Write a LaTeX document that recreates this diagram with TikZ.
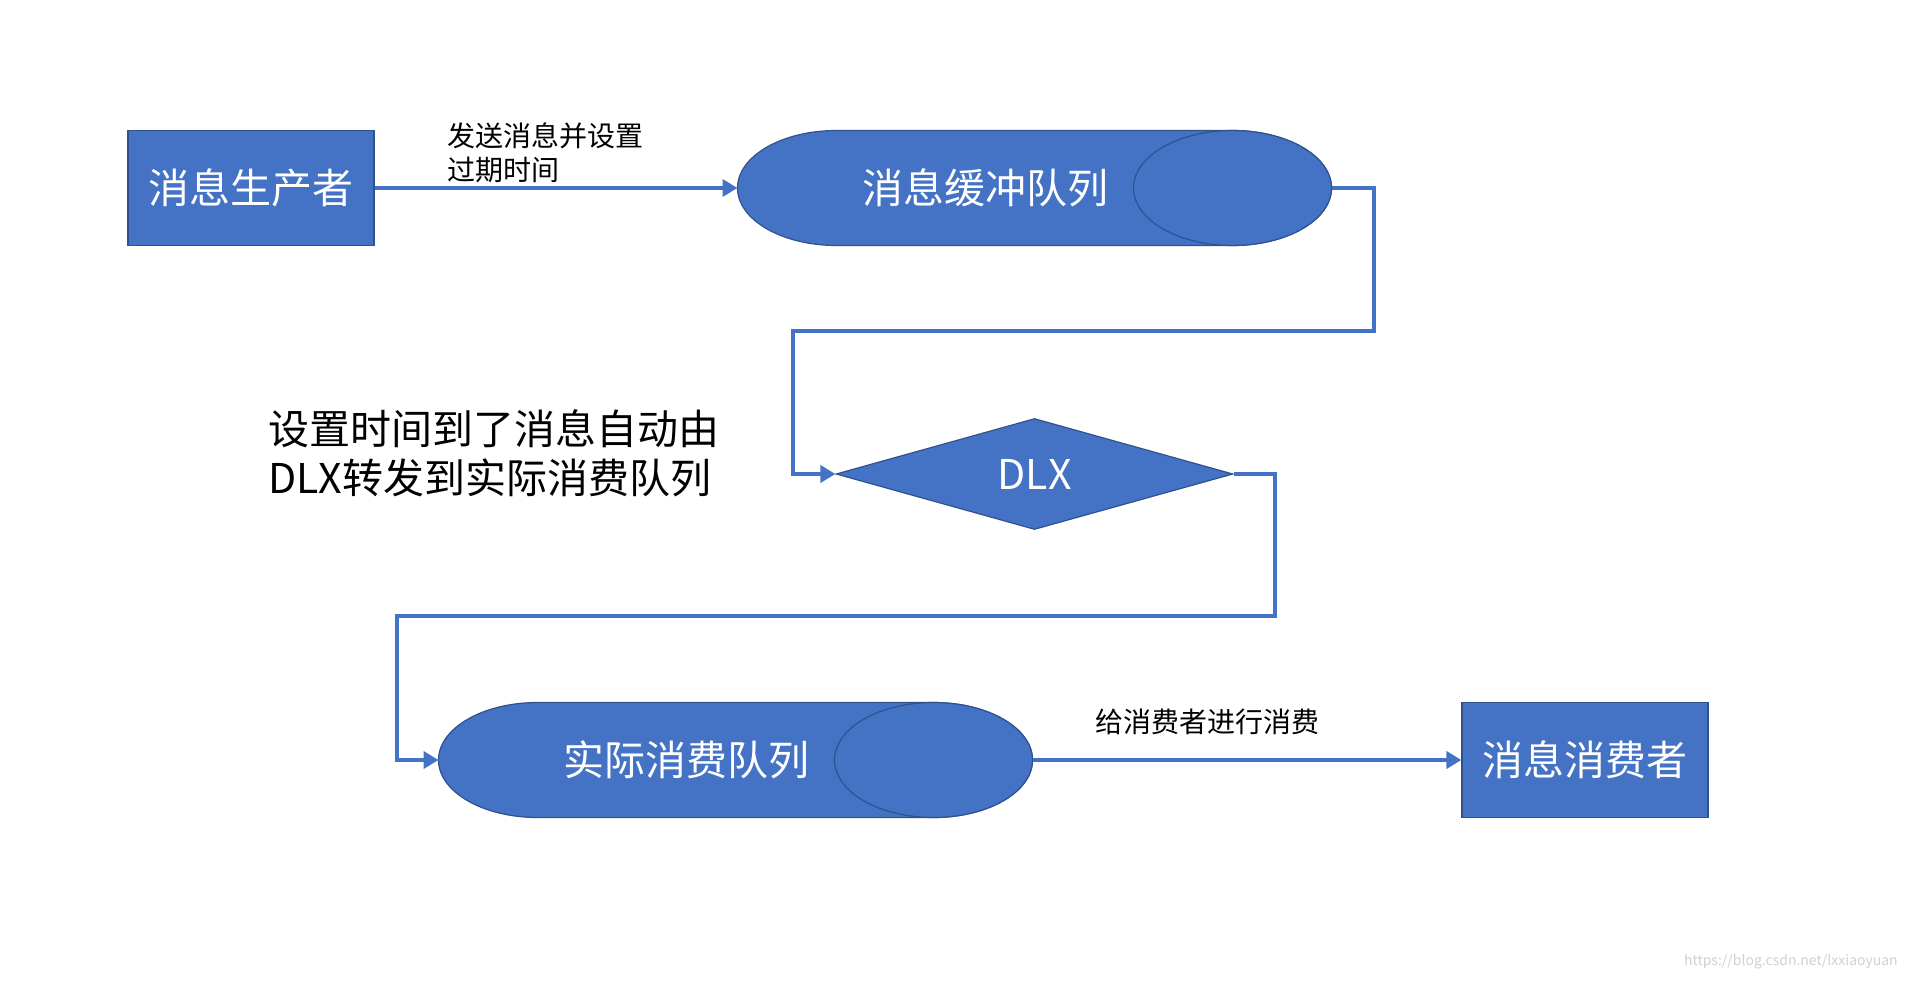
\documentclass[tikz,border=0pt]{standalone}
\usepackage{fontspec}
\setmainfont{Noto Sans CJK SC}
\usepackage{tikz}
\usetikzlibrary{positioning,shapes.geometric,arrows.meta,backgrounds}

\definecolor{boxblue}{HTML}{4472C4}
\definecolor{edgeblue}{HTML}{2F528F}

\begin{document}
\begin{tikzpicture}[%
	x=1pt, y=-1pt,
	->,
	>={Triangle[length=15pt,width=17pt]},
	line width=4.5pt, draw=boxblue,
	big/.style={font=\fontsize{41}{49}\selectfont},
	small/.style={font=\fontsize{28}{34}\selectfont},
	endpoint/.style={draw=edgeblue, line width=1.2pt, fill=boxblue, text=white, big,
		minimum width=246pt, minimum height=115pt, inner sep=0},
	queue/.style={text=white, big, minimum width=495pt, minimum height=115pt, inner sep=0, outer sep=0},
	queueline/.style={-, draw=edgeblue, line width=1.2pt, fill=boxblue},
	]
	\node[endpoint] (producer) at (251,188) {消息生产者};
	
	\node[queue] (buffer) at (985,188) {消息缓冲队列};
	
	\node[diamond, draw=edgeblue, line width=1.2pt, fill=boxblue, text=white, big,
		minimum width=397pt, minimum height=111pt, aspect=3.6, inner sep=0] (dlx) at (1034.5,474) {DLX};
	
	\node[big, align=left, anchor=west, inner sep=0] (note) at (266,453) {设置时间到了消息自动由\\DLX转发到实际消费队列};
	
	\node[queue] (real) at (686,760) {实际消费队列};
	
	\node[endpoint] (consumer) at (1585,760) {消息消费者};
	
	\node[text=black!18, font=\fontsize{14}{14}\selectfont, anchor=east, inner sep=0] (mark) at (1900,962) {https://blog.csdn.net/lxxiaoyuan};
	
	% queue bodies, behind their labels
	\begin{scope}[on background layer]
		\path[fill=white, use as bounding box] (0,0) rectangle (1910,982);
		\foreach \q in {buffer,real}{
			\filldraw[queueline] ([xshift=99pt]\q.north west) arc[start angle=90, end angle=270, x radius=99pt, y radius=57.5pt]
				-- (\q.south east) arc[start angle=-90, end angle=90, x radius=99pt, y radius=57.5pt] -- cycle;
			\draw[queueline] (\q.east) ellipse[x radius=99pt, y radius=57.5pt];
		}
	\end{scope}
	
	\coordinate (bendA) at (1374,331);
	\coordinate (bendB) at (793,474);
	\coordinate (bendC) at (1275,616);
	\coordinate (bendD) at (397,760);
	
	\path (producer) edge node[small, above, align=left, xshift=-11pt] {发送消息并设置\\过期时间} (buffer);
	\draw ([xshift=99pt]buffer.east) -| (bendA) -| (bendB) -- (dlx.west);
	\draw (dlx.east) -| (bendC) -| (bendD) -- (real.west);
	\draw ([xshift=99pt]real.east) -- node[small, above=20pt, xshift=-39pt] {给消费者进行消费} (consumer);
\end{tikzpicture}
\end{document}
